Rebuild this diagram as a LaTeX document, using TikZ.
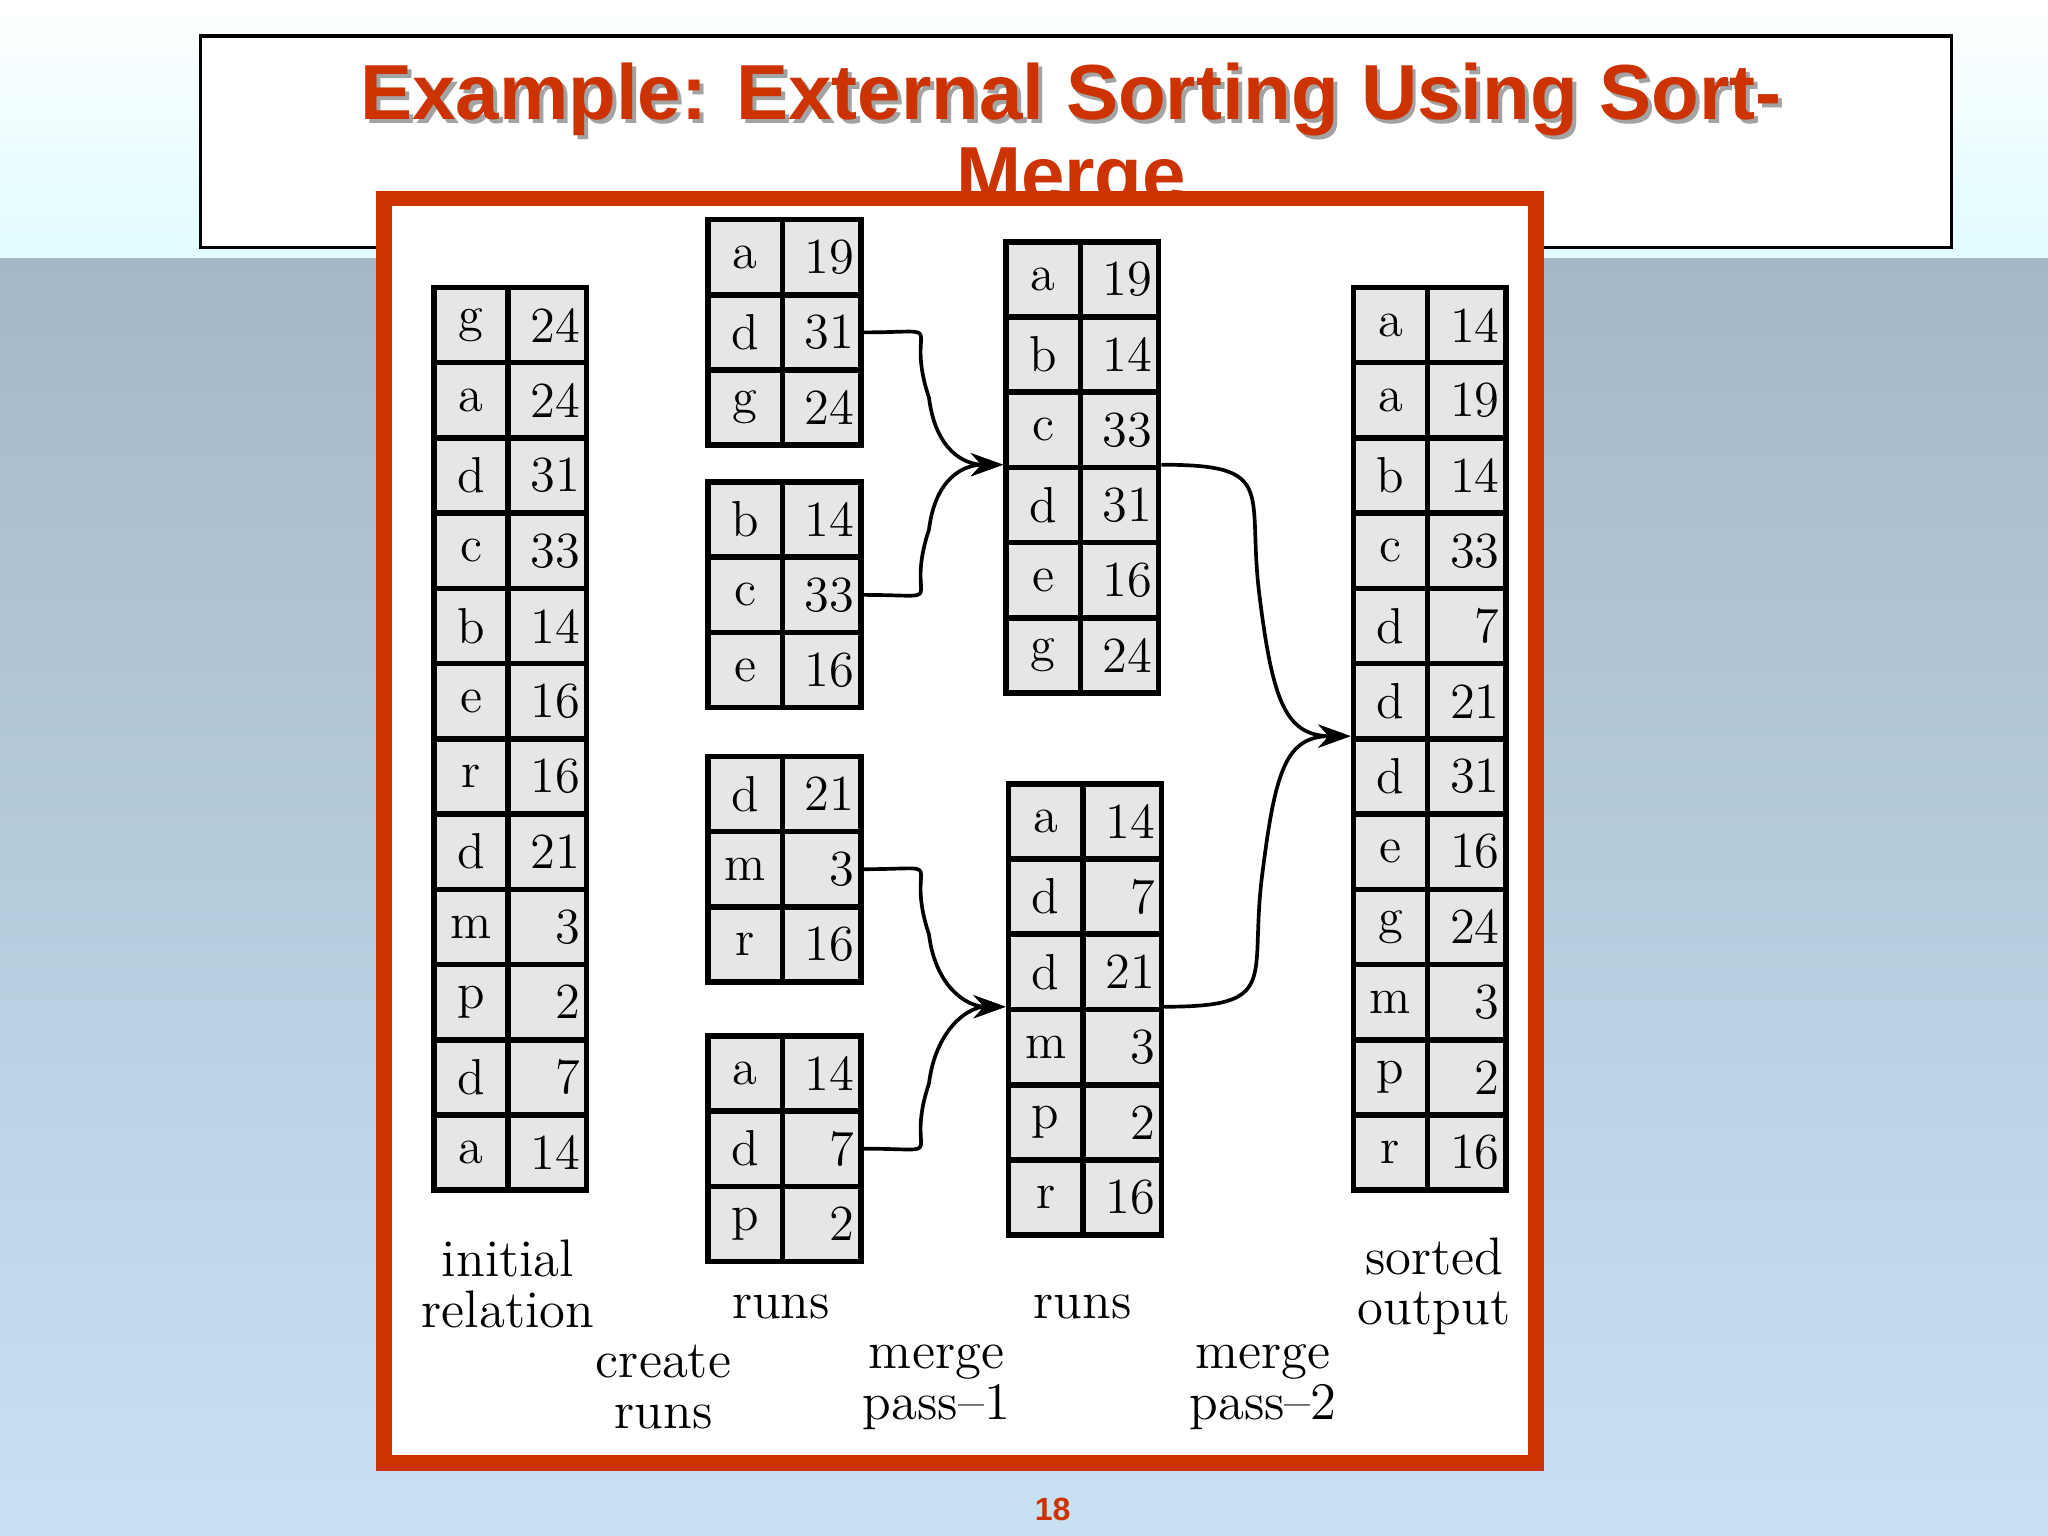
\documentclass[tikz,border=0pt]{standalone}
\usepackage{fontspec}
\newfontfamily\titlefont{Liberation Sans}
\usetikzlibrary{arrows.meta}
\definecolor{ttl}{HTML}{CC3300}
\definecolor{cellgray}{HTML}{E6E6E6}
\tikzset{
  cell/.style={draw=black, line width=1.2pt, fill=cellgray, minimum height=0.575cm, inner sep=0pt, font=\fontsize{11}{12}\selectfont, anchor=north west},
  lab/.style={align=center, font=\fontsize{11.5}{11}\selectfont},
  conn/.style={line width=0.8pt, -{Stealth[length=7pt,width=5pt]}}
}
\newcommand{\mktbl}[4]{% name, x left, y top, list
  \foreach \kk/\vv [count=\ii from 0] in {#4}{
    \node[cell, minimum width=0.57cm] (#1-\ii-k) at (#2, -#3-57.6*\ii) {\kk};
    \node[cell, minimum width=0.60cm, align=right, text width=0.5cm] (#1-\ii-v) at (#2+57, -#3-57.6*\ii) {\vv};
  }
}
\begin{document}
\begin{tikzpicture}[x=0.01cm, y=0.01cm]
\useasboundingbox (0,0) rectangle (1568,-1176);
\shade[top color=white, bottom color=blue!10!cyan!12] (0,0) rectangle (1568,-198);
\shade[top color={rgb,255:red,164;green,184;blue,200}, bottom color={rgb,255:red,200;green,226;blue,244}] (0,-198) rectangle (1568,-1176);
\node[draw=black, fill=white, line width=0.8pt, minimum width=13.4cm, minimum height=1.62cm, anchor=north west, inner sep=0pt] (tbox) at (152,-26) {};
\node[font=\titlefont\bfseries\fontsize{17}{20}\selectfont, text=black!60, opacity=0.6] at (823,-79) {Example: External Sorting Using Sort-};
\node[font=\titlefont\bfseries\fontsize{17}{20}\selectfont, text=ttl] (title) at (820,-76) {Example: External Sorting Using Sort-};
\node[font=\titlefont\bfseries\fontsize{17}{20}\selectfont, text=ttl] (title2) at (820,-140) {Merge};
\draw[draw=ttl, line width=12pt*0.01/0.0352778*0.0352778, fill=white] (294,-152) rectangle (1176,-1120);
\draw[draw=ttl, line width=3.4pt] (294,-152) rectangle (1176,-1120);
\node[font=\titlefont\bfseries\fontsize{7}{8}\selectfont, text=ttl] (pg) at (806,-1156) {18};

\mktbl{ir}{330}{218}{g/24,a/24,d/31,c/33,b/14,e/16,r/16,d/21,m/3,p/2,d/7,a/14}
\mktbl{ra}{540}{166}{a/19,d/31,g/24}
\mktbl{rb}{540}{367}{b/14,c/33,e/16}
\mktbl{rc}{540}{577}{d/21,m/3,r/16}
\mktbl{rd}{540}{791}{a/14,d/7,p/2}
\mktbl{ma}{768}{183}{a/19,b/14,c/33,d/31,e/16,g/24}
\mktbl{mb}{770}{598}{a/14,d/7,d/21,m/3,p/2,r/16}
\mktbl{so}{1034}{218}{a/14,a/19,b/14,c/33,d/7,d/21,d/31,e/16,g/24,m/3,p/2,r/16}

\coordinate (ma-in) at (ma-3-k.north west);
\coordinate (mb-in) at (mb-3-k.north west);
\coordinate (ma-out) at (ma-3-v.north east);
\coordinate (mb-out) at (mb-3-v.north east);
\coordinate (so-in) at (so-6-k.north west);
\draw[conn] (ra-1-v.east) .. controls +(70,0) and +(-20,60) .. ++(50,-50) .. controls +(5,-40) and +(-30,0) .. (ma-in);
\draw[conn] (rb-1-v.east) .. controls +(70,0) and +(-20,-60) .. ++(50,50) .. controls +(5,40) and +(-30,0) .. (ma-in);
\draw[conn] (rc-1-v.east) .. controls +(70,0) and +(-20,60) .. ++(50,-50) .. controls +(5,-40) and +(-30,0) .. (mb-in);
\draw[conn] (rd-1-v.east) .. controls +(70,0) and +(-20,-60) .. ++(50,50) .. controls +(5,40) and +(-30,0) .. (mb-in);
\draw[conn] (ma-out) .. controls +(90,0) and +(-10,80) .. ++(75,-100) .. controls +(10,-80) and +(-50,0) .. (so-in);
\draw[conn] (mb-out) .. controls +(90,0) and +(-10,-80) .. ++(75,100) .. controls +(10,80) and +(-50,0) .. (so-in);

\node[lab] (l1) at (389,-983) {initial\\relation};
\node[lab] (l2) at (598,-1001) {runs};
\node[lab] (l3) at (508,-1062) {create\\runs};
\node[lab] (l4) at (829,-1001) {runs};
\node[lab] (l5) at (717,-1062) {merge\\pass--1};
\node[lab] (l6) at (1098,-985) {sorted\\output};
\node[lab] (l7) at (967,-1062) {merge\\pass--2};
\end{tikzpicture}
\end{document}
